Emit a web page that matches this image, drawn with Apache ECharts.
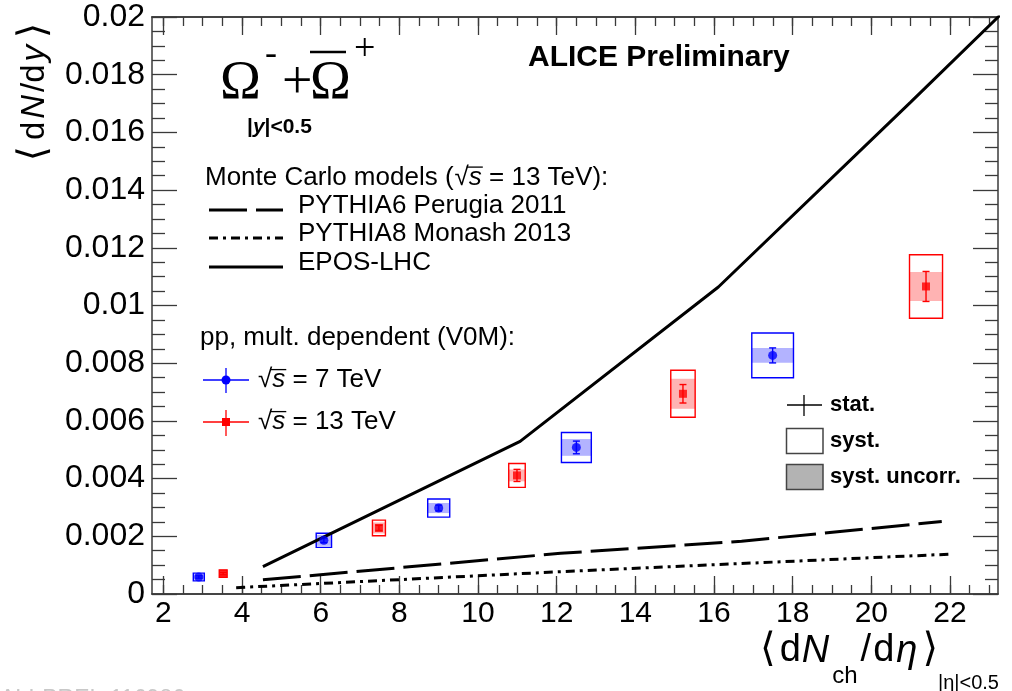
<!DOCTYPE html>
<html>
<head>
<meta charset="utf-8">
<script src="https://cdn.jsdelivr.net/npm/echarts@6/dist/echarts.min.js"></script>
<style>
  html, body { margin: 0; padding: 0; background: #ffffff; }
  #chart { width: 1012px; height: 691px; }
</style>
</head>
<body>
<div id="chart"></div>
<script>
// Omega yields vs. charged-particle multiplicity, pp at sqrt(s) = 7 TeV
const mult7        = [2.90, 6.08, 9.00, 12.50, 17.49];
const mult7Err     = [0.14, 0.195, 0.28, 0.38, 0.53];
const omega7       = [0.00059, 0.00186, 0.00298, 0.00508, 0.00827];
const omega7Stat   = [0.00004, 0.00008, 0.00010, 0.00022, 0.00026];
const omega7Syst   = [0.000135, 0.000245, 0.000315, 0.00052, 0.000775];
const omega7Uncorr = [0.00010, 0.00019, 0.000175, 0.00029, 0.000255];

// Omega yields vs. charged-particle multiplicity, pp at sqrt(s) = 13 TeV
const mult13        = [3.52, 7.48, 10.99, 15.21, 21.39];
const mult13Err     = [0.10, 0.165, 0.21, 0.31, 0.42];
const omega13       = [0.000705, 0.00229, 0.00411, 0.00694, 0.01066];
const omega13Stat   = [0.00004, 0.00009, 0.00021, 0.00032, 0.00052];
const omega13Syst   = [0.000125, 0.00027, 0.000415, 0.000815, 0.0011];
const omega13Uncorr = [0.00010, 0.00019, 0.000205, 0.00052, 0.000505];

// Monte Carlo predictions at 13 TeV
const p6Mult    = [4.53, 12.1, 16.7, 21.79];
const p6Yield   = [0.00049, 0.00141, 0.00183, 0.00251];
const p8Mult    = [3.85, 12.5, 21.99];
const p8Yield   = [0.00022, 0.00080, 0.00138];
const eposMult  = [4.53, 11.07, 16.11, 21.0, 23.3];
const eposYield = [0.00095, 0.00529, 0.01064, 0.01705, 0.0201];

// Axis ranges and ticks
const xMin = 1.71, xMax = 23.22;
const yMin = 0, yMax = 0.02, yStep = 0.002;
const xMajorTicks = [2, 4, 6, 8, 10, 12, 14, 16, 18, 20, 22];
const xMinorTicks = [2, 2.5, 3, 3.5, 4, 4.5, 5, 5.5, 6, 6.5, 7, 7.5, 8, 8.5, 9, 9.5,
  10, 10.5, 11, 11.5, 12, 12.5, 13, 13.5, 14, 14.5, 15, 15.5, 16, 16.5, 17, 17.5,
  18, 18.5, 19, 19.5, 20, 20.5, 21, 21.5, 22, 22.5, 23];

const SANS = '"Liberation Sans", Arial, Helvetica, sans-serif';
const SERIF = '"Liberation Serif", "Times New Roman", serif';
const BRACKET = '"DejaVu Sans", sans-serif';
const FRAME = '#3a3a3a';
const BLUE = '#0000ff', RED = '#ff0000';
const BLUE_BAND = '#b3b3ff', RED_BAND = '#ffb3b3';

const chart = echarts.init(document.getElementById('chart'));

// ---- text layout helpers for the in-plot annotations ----
const measureCtx = document.createElement('canvas').getContext('2d');
function fontStr(p) {
  return (p.style || 'normal') + ' ' + (p.weight || 'normal') + ' ' + p.size + 'px ' + (p.family || SANS);
}
function textEl(x, y, text, font, fill) {
  return {
    type: 'text', x: x, y: y, silent: true,
    style: { text: text, font: font, fill: fill || '#000',
             align: 'left', verticalAlign: 'middle', textAlign: 'left', textVerticalAlign: 'middle' }
  };
}
// Lays out a run of differently styled pieces on one line.
function seq(x, y, parts, align) {
  const widths = parts.map(function (p) {
    measureCtx.font = fontStr(p);
    return measureCtx.measureText(p.t).width + (p.gap || 0);
  });
  const total = widths.reduce(function (a, b) { return a + b; }, 0);
  let cx = align === 'right' ? x - total : x;
  const els = [], starts = [];
  parts.forEach(function (p, i) {
    starts.push(cx);
    els.push(textEl(cx, y + (p.dy || 0), p.t, fontStr(p), p.fill));
    cx += widths[i];
  });
  return { els: els, starts: starts, widths: widths, end: cx };
}
function lineEl(x1, y1, x2, y2, color, width, dash) {
  return { type: 'line', silent: true,
    shape: { x1: x1, y1: y1, x2: x2, y2: y2 },
    style: { stroke: color, lineWidth: width, lineDash: dash || null } };
}
// "sqrt(s) = ..." with a bar over s
function sqrtLabel(x, y, rest, size) {
  const r = seq(x, y, [
    { t: '\u221A', size: size },
    { t: 's', size: size, style: 'italic' },
    { t: rest, size: size }
  ]);
  const barY = y - size * 0.4;
  r.els.push(lineEl(r.starts[0] + r.widths[0] * 0.85, barY,
                    r.starts[1] + r.widths[1] + 1, barY, '#000', 1.3));
  return r.els;
}

const graphics = [];
function add(list) { list.forEach(function (e) { graphics.push(e); }); }

// Title block
add(seq(528, 58, [{ t: 'ALICE Preliminary', size: 30, weight: 'bold' }]).els);

// Omega^- + anti-Omega^+
graphics.push(textEl(220, 84, '\u03A9', 'normal normal 55px ' + SERIF));
graphics.push(textEl(265, 55, '-', 'normal normal 36px ' + SERIF));
graphics.push(textEl(282, 84, '+', 'normal normal 54px ' + SERIF));
graphics.push(textEl(310, 84, '\u03A9', 'normal normal 55px ' + SERIF));
graphics.push(lineEl(310, 52, 346, 52, '#000', 2.5));
graphics.push(textEl(354, 50, '+', 'normal normal 38px ' + SERIF));
add(seq(247, 127, [
  { t: '|', size: 21, weight: 'bold' },
  { t: 'y', size: 21, weight: 'bold', style: 'italic' },
  { t: '|<0.5', size: 21, weight: 'bold' }
]).els);

// Model legend
(function () {
  const head = seq(205, 177.5, [{ t: 'Monte Carlo models (', size: 26 }]);
  add(head.els);
  add(sqrtLabel(head.end + 1, 177.5, ' = 13 TeV):', 26));
})();
add(seq(298, 206, [{ t: 'PYTHIA6 Perugia 2011', size: 26 }]).els);
add(seq(298, 234, [{ t: 'PYTHIA8 Monash 2013', size: 26 }]).els);
add(seq(298, 263, [{ t: 'EPOS-LHC', size: 26 }]).els);
graphics.push(lineEl(209, 210, 283, 210, '#000', 3, [38, 9]));
graphics.push(lineEl(209, 238, 283, 238, '#000', 3, [9, 5, 3, 5]));
graphics.push(lineEl(209, 267, 283, 267, '#000', 3));

// Data legend
add(seq(200, 337.5, [{ t: 'pp, mult. dependent (V0M):', size: 26 }]).els);
add(sqrtLabel(258, 380, ' = 7 TeV', 26));
add(sqrtLabel(258, 422, ' = 13 TeV', 26));
graphics.push(lineEl(203, 380, 249, 380, BLUE, 1.3));
graphics.push(lineEl(226, 368, 226, 393, BLUE, 1.3));
graphics.push({ type: 'circle', silent: true, shape: { cx: 226, cy: 380, r: 4.5 }, style: { fill: BLUE } });
graphics.push(lineEl(203, 422, 249, 422, RED, 1.3));
graphics.push(lineEl(226, 410, 226, 436, RED, 1.3));
graphics.push({ type: 'rect', silent: true, shape: { x: 222, y: 418, width: 8, height: 8 }, style: { fill: RED } });

// Uncertainty legend
graphics.push(lineEl(787, 405, 822, 405, '#000', 1.3));
graphics.push(lineEl(804, 395, 804, 416, '#000', 1.3));
graphics.push({ type: 'rect', silent: true, shape: { x: 786.5, y: 428.5, width: 36.5, height: 25 },
  style: { fill: '#ffffff', stroke: '#444', lineWidth: 1.5 } });
graphics.push({ type: 'rect', silent: true, shape: { x: 786.5, y: 464.5, width: 36.5, height: 25 },
  style: { fill: '#b3b3b3', stroke: '#444', lineWidth: 1.5 } });
add(seq(830, 405, [{ t: 'stat.', size: 22, weight: 'bold' }]).els);
add(seq(830, 441, [{ t: 'syst.', size: 22, weight: 'bold' }]).els);
add(seq(830, 477, [{ t: 'syst. uncorr.', size: 22, weight: 'bold' }]).els);

// Axis titles
graphics.push({
  type: 'text', x: 35, y: 92, rotation: Math.PI / 2, silent: true,
  style: {
    text: '{b|\u27E8}{a|d}{i|N}{a|/d}{i|y}{b|\u27E9}',
    rich: {
      a: { fontSize: 33, fontFamily: SANS, padding: [0, 1] },
      i: { fontSize: 33, fontFamily: SANS, fontStyle: 'italic', padding: [0, 2] },
      b: { fontSize: 39, fontFamily: BRACKET, padding: [0, 5] }
    },
    fill: '#000', align: 'center', verticalAlign: 'middle', textAlign: 'center', textVerticalAlign: 'middle'
  }
});
add(seq(938, 683, [{ t: '|\u03B7|<0.5', size: 20 }]).els);
add(seq(938, 651, [
  { t: '\u27E8', size: 40, family: BRACKET, gap: 4 },
  { t: 'd', size: 38, gap: 1 },
  { t: 'N', size: 38, style: 'italic', gap: 3 },
  { t: 'ch', size: 24, dy: 25.5, gap: 3 },
  { t: '/', size: 38, gap: 2 },
  { t: 'd', size: 38, gap: 2 },
  { t: '\u03B7', size: 38, style: 'italic', gap: 5 },
  { t: '\u27E9', size: 40, family: BRACKET }
], 'right').els);

// Preliminary figure tag
graphics.push(textEl(0, 700, 'ALI-PREL-116986', 'normal normal 23px ' + SANS, '#c8c8c8'));

// ---- data series ----
function boxRenderer(color, band) {
  return function (params, api) {
    const x = api.value(0), y = api.value(1), st = api.value(2),
          sy = api.value(3), un = api.value(4), xe = api.value(5);
    const tl = api.coord([x - xe, y + sy]), br = api.coord([x + xe, y - sy]);
    const btl = api.coord([x - xe, y + un]), bbr = api.coord([x + xe, y - un]);
    const top = api.coord([x, y + st]), bot = api.coord([x, y - st]);
    const cap = 3.5;
    const s = { stroke: color, lineWidth: 1.4 };
    return {
      type: 'group',
      children: [
        { type: 'rect', shape: { x: btl[0], y: btl[1], width: bbr[0] - btl[0], height: bbr[1] - btl[1] },
          style: { fill: band } },
        { type: 'rect', shape: { x: tl[0], y: tl[1], width: br[0] - tl[0], height: br[1] - tl[1] },
          style: { fill: 'none', stroke: color, lineWidth: 1.4 } },
        { type: 'line', shape: { x1: top[0], y1: top[1], x2: bot[0], y2: bot[1] }, style: s },
        { type: 'line', shape: { x1: top[0] - cap, y1: top[1], x2: top[0] + cap, y2: top[1] }, style: s },
        { type: 'line', shape: { x1: bot[0] - cap, y1: bot[1], x2: bot[0] + cap, y2: bot[1] }, style: s }
      ]
    };
  };
}

const rows7 = mult7.map(function (x, i) {
  return [x, omega7[i], omega7Stat[i], omega7Syst[i], omega7Uncorr[i], mult7Err[i]];
});
const rows13 = mult13.map(function (x, i) {
  return [x, omega13[i], omega13Stat[i], omega13Syst[i], omega13Uncorr[i], mult13Err[i]];
});
const pairs = function (xs, ys) { return xs.map(function (x, i) { return [x, ys[i]]; }); };

const frameLine = { show: true, lineStyle: { color: FRAME, width: 1.5 } };
const tickStyle = { color: FRAME, width: 1.3 };

function xAxisDef(position, ticks, len, labels) {
  return {
    type: 'value', gridIndex: 0, position: position, min: xMin, max: xMax,
    axisLine: frameLine,
    axisTick: { show: true, inside: true, length: len, customValues: ticks, lineStyle: tickStyle },
    axisLabel: labels ? {
      show: true, customValues: xMajorTicks, fontSize: 30, fontFamily: SANS, color: '#000', margin: 5
    } : { show: false },
    splitLine: { show: false }
  };
}
function yAxisDef(position, labels) {
  return {
    type: 'value', gridIndex: 0, position: position, min: yMin, max: yMax, interval: yStep,
    axisLine: frameLine,
    axisTick: { show: true, inside: true, length: 25, lineStyle: tickStyle },
    minorTick: { show: true, splitNumber: 4, length: 13, lineStyle: tickStyle },
    axisLabel: labels ? { show: true, fontSize: 32, fontFamily: SANS, color: '#000', margin: 7 } : { show: false },
    splitLine: { show: false }
  };
}

chart.setOption({
  animation: false,
  backgroundColor: '#ffffff',
  grid: { left: 152, right: 14, top: 17, bottom: 97, containLabel: false },
  xAxis: [
    xAxisDef('bottom', xMajorTicks, 18, true),
    xAxisDef('bottom', xMinorTicks, 9, false),
    xAxisDef('top', xMajorTicks, 18, false),
    xAxisDef('top', xMinorTicks, 9, false)
  ],
  yAxis: [yAxisDef('left', true), yAxisDef('right', false)],
  graphic: { elements: graphics },
  series: [
    { name: 'syst 7 TeV', type: 'custom', xAxisIndex: 0, yAxisIndex: 0, z: 2,
      renderItem: boxRenderer(BLUE, BLUE_BAND), encode: { x: 0, y: 1 }, data: rows7, clip: true },
    { name: 'syst 13 TeV', type: 'custom', xAxisIndex: 0, yAxisIndex: 0, z: 2,
      renderItem: boxRenderer(RED, RED_BAND), encode: { x: 0, y: 1 }, data: rows13, clip: true },
    { name: 'PYTHIA6 Perugia 2011', type: 'line', z: 3, showSymbol: false, silent: true, clip: true,
      data: pairs(p6Mult, p6Yield), lineStyle: { color: '#000', width: 3, type: [38, 9], cap: 'butt' } },
    { name: 'PYTHIA8 Monash 2013', type: 'line', z: 3, showSymbol: false, silent: true, clip: true,
      data: pairs(p8Mult, p8Yield), lineStyle: { color: '#000', width: 3, type: [9, 5, 3, 5], cap: 'butt' } },
    { name: 'EPOS-LHC', type: 'line', z: 3, showSymbol: false, silent: true, clip: true,
      data: pairs(eposMult, eposYield), lineStyle: { color: '#000', width: 3 } },
    { name: '7 TeV', type: 'scatter', z: 5, silent: true, symbol: 'circle', symbolSize: 9,
      itemStyle: { color: BLUE }, data: pairs(mult7, omega7) },
    { name: '13 TeV', type: 'scatter', z: 5, silent: true, symbol: 'rect', symbolSize: 8,
      itemStyle: { color: RED }, data: pairs(mult13, omega13) }
  ]
});
</script>
</body>
</html>
